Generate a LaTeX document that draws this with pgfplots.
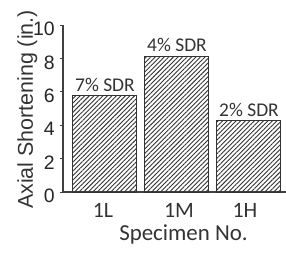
\documentclass[border=0pt]{standalone}
\usepackage{fontspec}
\setmainfont{Carlito}
\newfontfamily\arial{Liberation Sans}
\usepackage{pgfplots}
\pgfplotsset{compat=1.18}
\usetikzlibrary{patterns.meta}
\begin{document}
\begin{tikzpicture}[x=1bp,y=1bp]
\begin{axis}[
  at={(0,0)}, anchor=south west,
  width=223bp, height=167bp, scale only axis,
  xmin=-0.583, xmax=2.514, ymin=0, ymax=10,
  axis x line=bottom, axis y line=left,
  axis line style={-, line width=1.2bp, draw=black!75},
  ybar, bar width=64bp,
  ytick={0,2,4,6,8,10},
  xtick={-0.028,1.028,1.944}, xticklabels={1L,1M,1H},
  tick align=outside, major tick length=3bp,
  x tick style={draw=none},
  y tick style={line width=0.8bp, draw=black!75},
  yticklabel style={font=\arial\fontsize{19.5}{19.5}\selectfont, text=black!85, inner sep=0pt, xshift=-5bp, yshift=-4bp},
  xticklabel style={font=\fontsize{22}{22}\selectfont, text=black!80, inner sep=0pt, yshift=-8bp},
  /pgf/number format/assume math mode=true,
  xlabel={Specimen No.},
  every axis x label/.style={at={(axis description cs:0.5404,0)}, anchor=base, yshift=-48bp, font=\fontsize{23}{23}\selectfont, text=black!80},
  ylabel={Axial Shortening (in.)},
  every axis y label/.style={at={(axis description cs:0,0.494)}, xshift=-30bp, rotate=90, anchor=base, font=\arial\fontsize{21.5}{21.5}\selectfont, text=black!80},
  nodes near coords,
  point meta=explicit symbolic,
  every node near coord/.append style={font=\fontsize{19.5}{19.5}\selectfont, text=black!80, inner sep=0pt, yshift=4bp},
  clip=false,
]
\addplot[draw=black!80, line width=1bp, pattern={Lines[angle=45,distance=3.2bp,line width=0.9bp]}, pattern color=black!80]
  coordinates {(0,5.75) [7\% SDR] (1,8.14) [4\% SDR] (2,4.27) [2\% SDR]};
\end{axis}
\pgfresetboundingbox
\useasboundingbox (-63bp,-61bp) rectangle (223bp,192bp);
\end{tikzpicture}
\end{document}
